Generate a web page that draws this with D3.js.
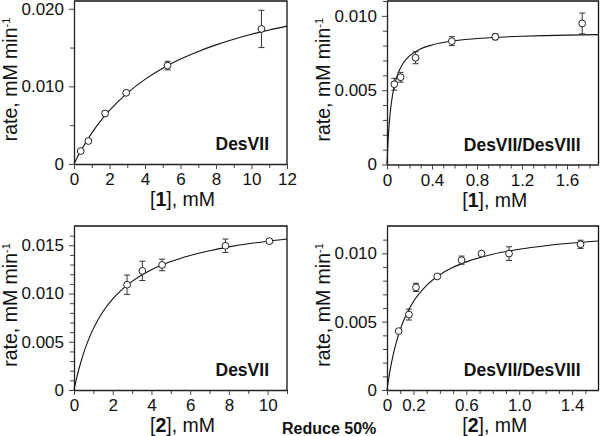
<!DOCTYPE html>
<html><head><meta charset="utf-8">
<script src="https://cdn.jsdelivr.net/npm/d3@7"></script>
<style>html,body{margin:0;padding:0;background:#fff;} svg{display:block}</style>
</head><body>
<svg id="chart" width="600" height="436"></svg>
<script>
// ---------- Panel A: DesVII, substrate [1] ----------
const aX   = [0.38, 0.81, 1.75, 2.94, 5.27, 10.56];
const aY   = [0.00167, 0.00296, 0.00651, 0.00917, 0.01268, 0.0174];
const aErr = [0.0001, 0.0001, 0.0003, 0.0002, 0.00055, 0.0024];
const aFitX = [0, 0.25, 0.5, 1, 1.5, 2, 3, 4, 5, 6, 7, 8, 9, 10, 11, 12];
const aFitY = [0, 0.001126, 0.002158, 0.003985, 0.00555, 0.006907, 0.009141, 0.010905, 0.012333, 0.013513, 0.014504, 0.015348, 0.016076, 0.01671, 0.017267, 0.01776];
const aXTicks = [0, 2, 4, 6, 8, 10, 12];
const aXTickLabels = ["0", "2", "4", "6", "8", "10", "12"];
const aXMinor = [1, 3, 5, 7, 9, 11];
const aYTicks = [0, 0.010, 0.020];
const aYTickLabels = ["0", "0.010", "0.020"];
const aYMinor = [0.005, 0.015];

// ---------- Panel B: DesVII/DesVIII, substrate [1] ----------
const bX   = [0.065, 0.121, 0.254, 0.576, 0.963, 1.735];
const bY   = [0.0054, 0.00587, 0.00718, 0.0083, 0.00859, 0.00949];
const bErr = [0.0004, 0.00033, 0.0004, 0.0003, 0.0002, 0.0007];
const bFitX = [0, 0.005, 0.01, 0.02, 0.03, 0.05, 0.075, 0.1, 0.15, 0.2, 0.3, 0.4, 0.6, 0.8, 1.0, 1.2, 1.4, 1.6, 1.88];
const bFitY = [0, 0.000895, 0.001627, 0.002754, 0.00358, 0.004711, 0.005594, 0.006172, 0.006885, 0.007306, 0.007783, 0.008045, 0.008326, 0.008473, 0.008565, 0.008627, 0.008671, 0.008705, 0.008741];
const bXTicks = [0, 0.4, 0.8, 1.2, 1.6];
const bXTickLabels = ["0", "0.4", "0.8", "1.2", "1.6"];
const bXMinor = [0.1, 0.2, 0.3, 0.5, 0.6, 0.7, 0.9, 1.0, 1.1, 1.3, 1.4, 1.5, 1.7, 1.8];
const bYTicks = [0, 0.005, 0.010];
const bYTickLabels = ["0", "0.005", "0.010"];
const bYMinor = [0.001, 0.002, 0.003, 0.004, 0.006, 0.007, 0.008, 0.009, 0.011];

// ---------- Panel C: DesVII, substrate [2] ----------
const cX   = [2.74, 3.53, 4.55, 7.82, 10.09];
const cY   = [0.01091, 0.01235, 0.01296, 0.01495, 0.01543];
const cErr = [0.001, 0.001, 0.0006, 0.0007, 0.0002];
const cFitX = [0, 0.1, 0.25, 0.5, 0.75, 1, 1.5, 2, 2.5, 3, 4, 5, 6, 7, 8, 9, 10, 11];
const cFitY = [0, 0.000925, 0.00215, 0.003849, 0.005224, 0.006361, 0.00813, 0.009443, 0.010457, 0.011262, 0.012463, 0.013314, 0.013949, 0.014441, 0.014834, 0.015154, 0.015421, 0.015646];
const cXTicks = [0, 2, 4, 6, 8, 10];
const cXTickLabels = ["0", "2", "4", "6", "8", "10"];
const cXMinor = [1, 3, 5, 7, 9, 11];
const cYTicks = [0, 0.005, 0.010, 0.015];
const cYTickLabels = ["0", "0.005", "0.010", "0.015"];
const cYMinor = [0.001, 0.002, 0.003, 0.004, 0.006, 0.007, 0.008, 0.009, 0.011, 0.012, 0.013, 0.014, 0.016];

// ---------- Panel D: DesVII/DesVIII, substrate [2] ----------
const dX   = [0.088, 0.166, 0.219, 0.38, 0.564, 0.715, 0.923, 1.464];
const dY   = [0.00431, 0.00552, 0.00751, 0.00831, 0.0095, 0.00998, 0.00998, 0.01066];
const dErr = [0.0001, 0.0004, 0.0003, 0.0001, 0.0003, 0.0001, 0.0005, 0.0003];
const dFitX = [0, 0.01, 0.025, 0.05, 0.075, 0.1, 0.15, 0.2, 0.3, 0.4, 0.5, 0.6, 0.8, 1.0, 1.2, 1.4, 1.6];
const dFitY = [0, 0.00066, 0.001525, 0.002709, 0.003653, 0.004425, 0.00561, 0.006477, 0.007662, 0.008433, 0.008975, 0.009376, 0.009932, 0.010298, 0.010558, 0.010751, 0.010901];
const dXTicks = [0, 0.2, 0.6, 1.0, 1.4];
const dXTickLabels = ["0", "0.2", "0.6", "1.0", "1.4"];
const dXMinor = [0.1, 0.3, 0.4, 0.5, 0.7, 0.8, 0.9, 1.1, 1.2, 1.3, 1.5];
const dYTicks = [0, 0.005, 0.010];
const dYTickLabels = ["0", "0.005", "0.010"];
const dYMinor = [0.001, 0.002, 0.003, 0.004, 0.006, 0.007, 0.008, 0.009, 0.011];

const panelTitles = ["DesVII", "DesVII/DesVIII", "DesVII", "DesVII/DesVIII"];
const substrates = ["1", "1", "2", "2"];
const footnote = "Reduce 50%";

const FONT = "'Liberation Sans', Arial, Helvetica, sans-serif";
const svg = d3.select("#chart");

const panels = [
  {x: aX, y: aY, err: aErr, fx: aFitX, fy: aFitY, xd: [0, 12], yd: [0, 0.021],
   xt: aXTicks, xl: aXTickLabels, xm: aXMinor, yt: aYTicks, yl: aYTickLabels, ym: aYMinor,
   box: {l: 74, r: 287, t: 1, b: 164}, title: panelTitles[0], sub: substrates[0]},
  {x: bX, y: bY, err: bErr, fx: bFitX, fy: bFitY, xd: [0, 1.88], yd: [0, 0.011],
   xt: bXTicks, xl: bXTickLabels, xm: bXMinor, yt: bYTicks, yl: bYTickLabels, ym: bYMinor,
   box: {l: 387, r: 598.5, t: 1, b: 164.5}, title: panelTitles[1], sub: substrates[1]},
  {x: cX, y: cY, err: cErr, fx: cFitX, fy: cFitY, xd: [0, 11], yd: [0, 0.017],
   xt: cXTicks, xl: cXTickLabels, xm: cXMinor, yt: cYTicks, yl: cYTickLabels, ym: cYMinor,
   box: {l: 74, r: 287, t: 226, b: 390}, title: panelTitles[2], sub: substrates[2]},
  {x: dX, y: dY, err: dErr, fx: dFitX, fy: dFitY, xd: [0, 1.6], yd: [0, 0.012],
   xt: dXTicks, xl: dXTickLabels, xm: dXMinor, yt: dYTicks, yl: dYTickLabels, ym: dYMinor,
   box: {l: 387, r: 598.5, t: 226, b: 390}, title: panelTitles[3], sub: substrates[3]}
];

panels.forEach(p => {
  const B = p.box;
  const xs = d3.scaleLinear().domain(p.xd).range([B.l, B.r]);
  const ys = d3.scaleLinear().domain(p.yd).range([B.b, B.t]);
  const g = svg.append("g");

  g.append("path")
    .attr("d", `M${B.l},${B.t}H${B.r}V${B.b}`)
    .attr("fill", "none").attr("stroke", "#111").attr("stroke-width", 1.3);

  const xMin = g.append("g").attr("transform", `translate(0,${B.b})`)
    .call(d3.axisBottom(xs).tickValues(p.xm).tickFormat("").tickSize(4).tickSizeOuter(0));
  const yMin = g.append("g").attr("transform", `translate(${B.l},0)`)
    .call(d3.axisLeft(ys).tickValues(p.ym).tickFormat("").tickSize(4).tickSizeOuter(0));
  [xMin, yMin].forEach(a => { a.select(".domain").remove(); a.selectAll("line").attr("stroke", "#444").attr("stroke-width", 1); });

  const xA = g.append("g").attr("transform", `translate(0,${B.b})`)
    .call(d3.axisBottom(xs).tickValues(p.xt).tickFormat((d, i) => p.xl[i]).tickSize(5).tickSizeOuter(0).tickPadding(4));
  const yA = g.append("g").attr("transform", `translate(${B.l},0)`)
    .call(d3.axisLeft(ys).tickValues(p.yt).tickFormat((d, i) => p.yl[i]).tickSize(5).tickSizeOuter(0).tickPadding(5));
  [xA, yA].forEach(a => {
    a.attr("font-family", FONT).attr("font-size", 17);
    a.select(".domain").attr("stroke", "#222").attr("stroke-width", 1.3);
    a.selectAll("line").attr("stroke", "#444").attr("stroke-width", 1);
    a.selectAll("text").attr("fill", "#111");
  });

  const xt = g.append("text")
    .attr("x", (B.l + B.r) / 2 + 2).attr("y", B.b + 42)
    .attr("text-anchor", "middle").attr("font-family", FONT).attr("font-size", 19.5).attr("fill", "#111");
  xt.append("tspan").text("[");
  xt.append("tspan").attr("font-weight", "bold").text(p.sub);
  xt.append("tspan").text("], mM");

  const yx = B.l - 57.5, yc = (B.t + B.b) / 2 - 3;
  const yt = g.append("text")
    .attr("transform", `translate(${yx},${yc}) rotate(-90)`)
    .attr("text-anchor", "middle").attr("font-family", FONT).attr("font-size", 19.5).attr("fill", "#111");
  yt.append("tspan").text("rate, mM min");
  yt.append("tspan").attr("font-size", 11).attr("dy", -7).text("-1");

  g.append("text")
    .attr("x", B.r - 18).attr("y", B.b - 14)
    .attr("text-anchor", "end").attr("font-family", FONT).attr("font-weight", "bold")
    .attr("font-size", 17.5).attr("fill", "#111").text(p.title);

  const line = d3.line().x(d => xs(d[0])).y(d => ys(d[1])).curve(d3.curveMonotoneX);
  g.append("path").datum(p.fx.map((v, i) => [v, p.fy[i]]))
    .attr("d", line).attr("fill", "none").attr("stroke", "#111").attr("stroke-width", 1.1);

  const pts = p.x.map((v, i) => ({x: v, y: p.y[i], e: p.err[i]}));
  const eb = g.append("g").attr("stroke", "#333").attr("stroke-width", 1);
  pts.forEach(d => {
    const cx = xs(d.x), y1 = ys(d.y - d.e), y2 = ys(d.y + d.e);
    eb.append("line").attr("x1", cx).attr("x2", cx).attr("y1", y1).attr("y2", y2);
    eb.append("line").attr("x1", cx - 3).attr("x2", cx + 3).attr("y1", y1).attr("y2", y1);
    eb.append("line").attr("x1", cx - 3).attr("x2", cx + 3).attr("y1", y2).attr("y2", y2);
  });

  g.selectAll("circle.pt").data(pts).enter().append("circle")
    .attr("cx", d => xs(d.x)).attr("cy", d => ys(d.y)).attr("r", 3.4)
    .attr("fill", "#fff").attr("stroke", "#222").attr("stroke-width", 1);
});

svg.append("text").attr("x", 282).attr("y", 434)
  .attr("font-family", FONT).attr("font-weight", "bold").attr("font-size", 16)
  .attr("fill", "#111").text(footnote);
</script>
</body></html>
